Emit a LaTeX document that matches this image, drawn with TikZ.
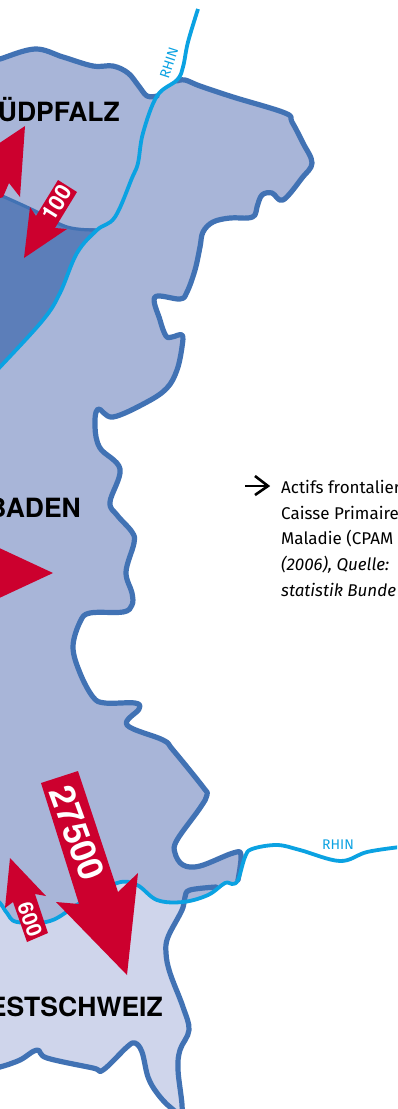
\documentclass[tikz,border=0pt]{standalone}
\usepackage{fontspec}
\setmainfont{Fira Sans}
\newfontfamily\dinb{TeX Gyre Heros}
\definecolor{outl}{HTML}{4172B4}
\definecolor{riv}{HTML}{0BA2E2}
\definecolor{lite}{HTML}{A8B5D8}
\definecolor{swis}{HTML}{CFD5EB}
\definecolor{dark}{HTML}{5C7EB9}
\definecolor{redd}{HTML}{CC002E}
\tikzset{
  x=1pt,y=-1pt,
  curve/.style={smooth,tension=.6},
  bnd/.style={line width=5.2pt,draw=outl,line join=round,line cap=round},
  rhine/.style={line width=3.8pt,draw=riv,line join=round},
  arrowred/.style={fill=redd,draw=none},
  region/.style={font=\fontsize{26.5}{26.5}\selectfont\dinb\bfseries,anchor=base east,inner sep=0pt,text=black},
  count/.style={text=white,inner sep=0pt},
  rivlabel/.style={text=riv,inner sep=0pt,font=\fontsize{14}{14}\selectfont},
  note/.style={anchor=base west,inner sep=0pt,text=black,font=\fontsize{17}{17}\selectfont\fontseries{l}\selectfont},
  noteit/.style={note,font=\fontsize{17}{17}\selectfont\fontseries{l}\itshape}
}
\begin{document}
\begin{tikzpicture}
\useasboundingbox (0,0) rectangle (397,1109);
\clip (0,0) rectangle (397,1109);
\fill[white] (0,0) rectangle (397,1109);
% Swiss
\fill[swis] plot[curve] coordinates {(-10,895)(0,903)(7,913)(17,922)(50,921)(80,903)(117,883)(137,885)(157,900)(183,890)(213,887)(238,880)(213,887)(190,890)(185,897)(182,910)(168,937)(166,953)(170,973)(183,1007)(189,1030)(180,1050)(178,1070)(182,1112)(170,1107)(157,1093)(148,1077)(142,1052)(135,1043)(127,1047)(103,1070)(93,1068)(47,1058)(37,1050)(20,1060)(0,1067)(-10,1068)};
% Baden + Pfalz
\fill[lite] plot[curve] coordinates {(-10,62)(0,59)(35,49)(63,57)(93,66)(113,66)(128,73)(138,85)(147,96)(157,96)(177,81)(185,80)(200,86)(233,97)(285,113)(292,122)(303,143)(312,163)(302,178)(283,200)(272,193)(262,195)(257,207)(255,215)(248,218)(230,218)(213,222)(203,232)(200,247)(195,270)(187,292)(180,299)(155,297)(160,320)(166,336)(172,337)(182,335)(182,347)(177,370)(167,388)(147,402)(113,417)(98,409)(95,427)(100,448)(120,469)(110,502)(117,515)(132,532)(134,543)(126,572)(132,593)(132,605)(123,612)(90,613)(80,622)(73,647)(80,673)(93,697)(105,703)(135,703)(139,709)(127,725)(163,740)(173,750)(203,787)(207,795)(200,808)(177,840)(175,853)(183,865)(200,866)(233,853)(241,855)(238,880)(232,884)(225,883)(208,895)(183,902)(157,900)(137,885)(117,883)(80,903)(50,921)(17,922)(7,913)(0,903)(-10,895)};
% Dark region
\fill[dark] plot[curve] coordinates {(-10,191)(0,195)(33,210)(67,227)(97,230)(77,253)(60,293)(43,320)(0,367)(-10,377)};
\draw[outl,line width=3.2pt] plot[curve] coordinates {(-10,191)(0,195)(33,210)(67,227)(97,230)};
% Boundaries
\draw[bnd] plot[curve] coordinates {(-10,62)(0,59)(35,49)(63,57)(93,66)(113,66)(128,73)(138,85)(147,96)(157,96)};
\draw[bnd] plot[curve] coordinates {(177,81)(185,80)(200,86)(233,97)(285,113)(292,122)(303,143)(312,163)(302,178)(283,200)(272,193)(262,195)(257,207)(255,215)(248,218)(230,218)(213,222)(203,232)(200,247)(195,270)(187,292)(180,299)(155,297)(160,320)(166,336)(172,337)(182,335)(182,347)(177,370)(167,388)(147,402)(113,417)(98,409)(95,427)(100,448)(120,469)(110,502)(117,515)(132,532)(134,543)(126,572)(132,593)(132,605)(123,612)(90,613)(80,622)(73,647)(80,673)(93,697)(105,703)(135,703)(139,709)(127,725)(163,740)(173,750)(203,787)(207,795)(200,808)(177,840)(175,853)(183,865)(200,866)(233,853)(241,855)(238,880)};
\draw[bnd] plot[curve] coordinates {(216,887)(190,890)(185,897)(182,910)(168,937)(166,953)(170,973)(183,1007)(189,1030)(180,1050)(178,1070)(182,1112)(170,1107)(157,1093)(148,1077)(142,1052)(135,1043)(127,1047)(103,1070)(93,1068)(47,1058)(37,1050)(20,1060)(0,1067)(-10,1068)};
% Rhine
\draw[rhine] plot[curve] coordinates {(198,9)(188,42)(183,67)(177,80)(157,96)(143,133)(138,163)(132,178)(115,217)(97,230)(77,253)(60,293)(43,320)(0,367)(-10,377)};
\draw[rhine] plot[curve] coordinates {(-10,895)(0,903)(7,913)(17,922)(50,921)(80,903)(117,883)(137,885)(157,900)(183,902)(208,895)(225,883)(232,884)(238,880)(245,857)(252,849)(277,845)(300,850)(340,861)(367,852)(400,847)};
\node[rivlabel,rotate=72] (rhinA) at (169,63) {RHIN};
\node[rivlabel] (rhinB) at (338,845) {RHIN};
% Arrows
\fill[arrowred] (-5,146)--(25,126)--(20,197)--(9,183)--(3,197)--(-5,200)--cycle;
\fill[arrowred] (58,180)--(77,192)--(55,228)--(67,229)--(24,258)--(30,207)--(36,216)--cycle;
\fill[arrowred] (-5,546)--(53,573)--(-5,600)--cycle;
\fill[arrowred] (41,783)--(78,771)--(118,892)--(138,873)--(127,975)--(56,902)--(79,904)--cycle;
\fill[arrowred] (27,942)--(48,933)--(35,894)--(46,896)--(10,858)--(5,908)--(13,902)--cycle;
\node[count,rotate=58,font=\fontsize{22}{22}\selectfont\dinb\bfseries] (c100) at (57,203) {100};
\node[count,rotate=-70,font=\fontsize{35}{35}\selectfont\dinb\bfseries] (c27500) at (77,833) {27500};
\node[count,rotate=-70,font=\fontsize{21}{21}\selectfont\dinb\bfseries] (c600) at (30,919) {600};
% Labels
\node[region] (pf) at (120,121) {ÜDPFALZ};
\node[region] (bd) at (81,517) {BADEN};
\node[region] (ws) at (163,1016) {ESTSCHWEIZ};
% Note
\coordinate (ns) at (245,486);
\coordinate (nt) at (268,486);
\coordinate (na) at (255,476);
\coordinate (nb) at (255,495);
\draw[line width=2.6pt] (ns)--(nt);
\draw[line width=2.6pt] (na)--(nt)--(nb);
\node[note] (n1) at (281,493) {Actifs frontalier};
\node[note] (n2) at (281,519) {Caisse Primaire};
\node[note] (n3) at (281,544) {Maladie (CPAM};
\node[noteit] (n4) at (281,570) {(2006), Quelle:};
\node[noteit] (n5) at (281,596) {statistik Bunde};
\end{tikzpicture}
\end{document}
